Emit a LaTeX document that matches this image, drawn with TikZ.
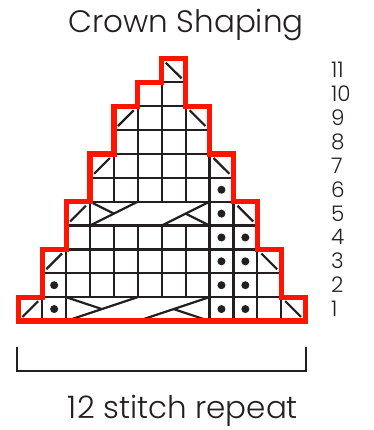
\documentclass[tikz,border=0pt]{standalone}
\usepackage{fontspec}
\newfontfamily\lightfont{Poppins Light}
\definecolor{chartred}{RGB}{255,20,0}
\definecolor{ink}{RGB}{35,31,32}
\tikzset{
  gridline/.style={draw=ink, line width=2.2pt},
  symline/.style={draw=ink, line width=2.2pt},
  outline/.style={draw=chartred, line width=5.2pt, line join=miter},
  bracketline/.style={draw=ink, line width=1.9pt},
  titletext/.style={font=\lightfont\fontsize{31}{31}\selectfont, text=ink, inner sep=0pt},
  numtext/.style={font=\lightfont\fontsize{21.5}{21.5}\selectfont, text=ink, inner sep=0pt},
}
\begin{document}
\begin{tikzpicture}[x=1pt,y=1pt]
\useasboundingbox (0,0) rectangle (373,430);
\begin{scope}[shift={(18.3pt,109pt)}, x=23.9pt, y=23.86pt]
  % plain cells
  \foreach \r/\a/\b in {2/1/10,3/1/10,4/2/9,6/3/8,7/3/8,8/4/7,9/4/7,10/5/6,11/6/6}{
    \foreach \cc in {\a,...,\b}{
      \draw[gridline] (\cc,\r-1) rectangle ++(1,1);
    }
  }
  \foreach \cc in {0,1,8,9,10,11}{ \draw[gridline] (\cc,0) rectangle ++(1,1); }
  \foreach \cc in {2,8,9}{ \draw[gridline] (\cc,4) rectangle ++(1,1); }
  % cable cells
  \draw[gridline] (2,0) rectangle (8,1);
  \draw[gridline] (3,4) rectangle (8,5);
  % row 1 cable
  \draw[symline] (2,0) -- (5,1);
  \draw[symline] (2,1) -- (3.5,0.5);
  \draw[symline] (5,0) -- (8,1);
  \draw[symline] (6.5,0.5) -- (8,0);
  % row 5 cable
  \draw[symline] (3,4) -- (5,5);
  \draw[symline] (3,5) -- (4,4.5);
  \draw[symline] (6,4) -- (8,5);
  \draw[symline] (7,4.5) -- (8,4);
  % left-leaning decreases (/)
  \foreach \cc/\r in {0/1,1/3,2/5,3/7,4/9}{
    \draw[symline] ({\cc+0.17},{\r-1+0.17}) -- ({\cc+0.83},{\r-0.17});
  }
  % right-leaning decreases (\)
  \foreach \cc/\r in {11/1,10/3,9/5,8/7,7/9,6/11}{
    \draw[symline] ({\cc+0.17},{\r-0.17}) -- ({\cc+0.83},{\r-1+0.17});
  }
  % purl dots
  \foreach \cc/\r in {1/1,8/1,9/1,1/2,8/2,9/2,8/3,9/3,8/4,9/4,8/5,8/6}{
    \fill[ink] ({\cc+0.5},{\r-0.5}) circle[radius=4pt];
  }
  % red outline
  \draw[outline] (0,0) -- (12,0) -- (12,1) -- (11,1) -- (11,3) -- (10,3) -- (10,5)
    -- (9,5) -- (9,7) -- (8,7) -- (8,9) -- (7,9) -- (7,11) -- (6,11) -- (6,10)
    -- (5,10) -- (5,9) -- (4,9) -- (4,7) -- (3,7) -- (3,5) -- (2,5) -- (2,3)
    -- (1,3) -- (1,1) -- (0,1) -- cycle;
\end{scope}
% row numbers
\foreach \r in {1,...,11}{
  \node[numtext, anchor=base west] (n\r) at (331,{109+(\r-0.5)*23.86-7.5}) {\r};
}
% title
\node[titletext, anchor=base] (title) at (186,397) {Crown Shaping};
% bracket
\coordinate (bl) at (17.3,83.3);
\coordinate (br) at (306,83.3);
\draw[bracketline] (bl) -- ++(0,-24) -| (br);
\node[titletext, anchor=base] (repeat) at (183,11) {12 stitch repeat};
\end{tikzpicture}
\end{document}
